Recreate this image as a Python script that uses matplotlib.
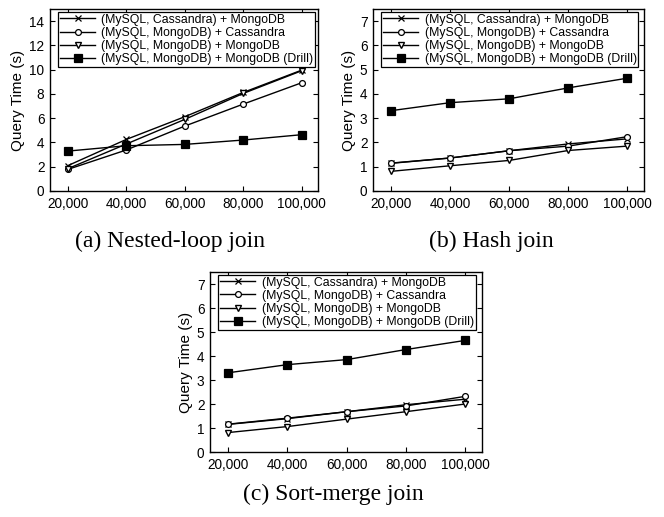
import matplotlib
matplotlib.use('Agg')
import matplotlib.pyplot as plt
from matplotlib.ticker import FuncFormatter

plt.rcParams['font.family'] = ['Liberation Sans', 'DejaVu Sans']

# ── data ──
rows = [20000, 40000, 60000, 80000, 100000]
series_labels = [
    '(MySQL, Cassandra) + MongoDB',
    '(MySQL, MongoDB) + Cassandra',
    '(MySQL, MongoDB) + MongoDB',
    '(MySQL, MongoDB) + MongoDB (Drill)',
]

nested_cm = [2.09, 4.25, 6.12, 8.12, 9.96]
nested_mc = [1.78, 3.38, 5.35, 7.16, 8.92]
nested_mm = [1.84, 3.87, 5.90, 8.04, 9.91]
nested_drill = [3.29, 3.73, 3.84, 4.20, 4.64]

hash_cm = [1.14, 1.36, 1.66, 1.94, 2.15]
hash_mc = [1.15, 1.36, 1.66, 1.85, 2.24]
hash_mm = [0.81, 1.04, 1.26, 1.67, 1.85]
hash_drill = [3.31, 3.64, 3.80, 4.25, 4.65]

sort_cm = [1.15, 1.39, 1.68, 1.97, 2.20]
sort_mc = [1.16, 1.41, 1.68, 1.92, 2.32]
sort_mm = [0.81, 1.06, 1.37, 1.68, 2.00]
sort_drill = [3.30, 3.64, 3.85, 4.27, 4.65]

captions = ['(a) Nested-loop join', '(b) Hash join', '(c) Sort-merge join']

STYLES = [
    dict(marker='x', markersize=4.5, markerfacecolor='none', markeredgewidth=0.9),
    dict(marker='o', markersize=4.2, markerfacecolor='white', markeredgewidth=0.9),
    dict(marker='v', markersize=4.5, markerfacecolor='white', markeredgewidth=1.0),
    dict(marker='s', markersize=5.2, markerfacecolor='black', markeredgewidth=0.9),
]


def draw(ax, series, ymax, yticks):
    for lab, ys, st in zip(series_labels, series, STYLES):
        ax.plot(rows, ys, color='black', linewidth=1.0, label=lab,
                markeredgecolor='black', **st)
    ax.set_xlim(13900, 105600)
    ax.set_ylim(0, ymax)
    ax.set_xticks(rows)
    ax.xaxis.set_major_formatter(FuncFormatter(lambda v, p: f'{int(v):,}'))
    ax.set_yticks(yticks)
    ax.tick_params(direction='in', top=True, right=True, length=3.5,
                   width=0.8, labelsize=9.8, pad=4)
    ax.set_ylabel('Query Time (s)', fontsize=11, labelpad=3)
    for s in ax.spines.values():
        s.set_linewidth(1.0)
    leg = ax.legend(loc='upper left', bbox_to_anchor=(0.03, 0.985),
                    fontsize=8.8, frameon=True, fancybox=False,
                    edgecolor='black', framealpha=1, handlelength=2.9,
                    handletextpad=0.5, borderpad=0.15, labelspacing=0.1,
                    borderaxespad=0.0, numpoints=1)
    leg.get_frame().set_linewidth(0.9)


fig = plt.figure(figsize=(6.64, 5.17), dpi=100)
ax_a = fig.add_axes([50 / 664, 1 - 191 / 517, 268 / 664, 182 / 517])
ax_b = fig.add_axes([373 / 664, 1 - 191 / 517, 271 / 664, 182 / 517])
ax_c = fig.add_axes([210 / 664, 1 - 452 / 517, 272 / 664, 180 / 517])

draw(ax_a, [nested_cm, nested_mc, nested_mm, nested_drill], 15, range(0, 15, 2))
draw(ax_b, [hash_cm, hash_mc, hash_mm, hash_drill], 7.5, range(0, 8))
draw(ax_c, [sort_cm, sort_mc, sort_mm, sort_drill], 7.5, range(0, 8))

cap_kw = dict(ha='center', va='baseline', fontsize=17,
              family=['Liberation Serif', 'DejaVu Serif'])
fig.text(170 / 664, 1 - 247 / 517, captions[0], **cap_kw)
fig.text(491 / 664, 1 - 247 / 517, captions[1], **cap_kw)
fig.text(333 / 664, 1 - 500 / 517, captions[2], **cap_kw)

fig.savefig('out.png', dpi=100, facecolor='white')
